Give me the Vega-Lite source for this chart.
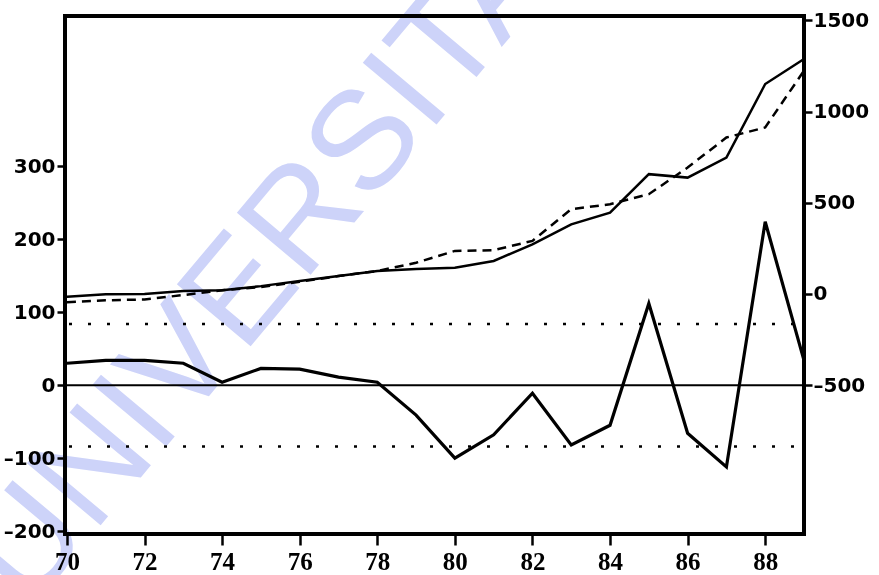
{
  "$schema": "https://vega.github.io/schema/vega-lite/v6.json",
  "width": 739,
  "height": 518,
  "autosize": "none",
  "padding": {"left": 65, "top": 16, "right": 75, "bottom": 41},
  "background": "white",
  "config": {
    "view": {"stroke": "black", "strokeWidth": 4},
    "axis": {
      "grid": false,
      "domain": false,
      "title": null,
      "zindex": 1,
      "labelFont": "DejaVu Sans",
      "labelFontWeight": "bold",
      "labelFontSize": 20,
      "labelColor": "black",
      "tickColor": "black",
      "tickWidth": 2.5
    }
  },
  "datasets": {
    "series": [
      {"year": 70, "actual": -15, "fitted": -45, "resid": 30},
      {"year": 71, "actual": -2, "fitted": -35, "resid": 34},
      {"year": 72, "actual": 0, "fitted": -30, "resid": 34},
      {"year": 73, "actual": 16, "fitted": -6, "resid": 30},
      {"year": 74, "actual": 20, "fitted": 20, "resid": 4},
      {"year": 75, "actual": 43, "fitted": 38, "resid": 23},
      {"year": 76, "actual": 71, "fitted": 67, "resid": 22},
      {"year": 77, "actual": 98, "fitted": 98, "resid": 11},
      {"year": 78, "actual": 126, "fitted": 126, "resid": 4},
      {"year": 79, "actual": 137, "fitted": 171, "resid": -41},
      {"year": 80, "actual": 144, "fitted": 236, "resid": -100},
      {"year": 81, "actual": 181, "fitted": 240, "resid": -68},
      {"year": 82, "actual": 272, "fitted": 291, "resid": -11},
      {"year": 83, "actual": 382, "fitted": 465, "resid": -82},
      {"year": 84, "actual": 446, "fitted": 492, "resid": -55},
      {"year": 85, "actual": 657, "fitted": 547, "resid": 112},
      {"year": 86, "actual": 638, "fitted": 693, "resid": -66},
      {"year": 87, "actual": 748, "fitted": 858, "resid": -112},
      {"year": 88, "actual": 1151, "fitted": 913, "resid": 224},
      {"year": 89, "actual": 1288, "fitted": 1224, "resid": 34}
    ],
    "watermark": [{"label": "UNIVERSITAS"}],
    "bands": [{"level": 84}, {"level": -84}],
    "zero": [{"level": 0}]
  },
  "layer": [
    {
      "layer": [
        {
          "data": {"name": "zero"},
          "mark": {"type": "rule", "color": "black", "strokeWidth": 2},
          "encoding": {
            "y": {"field": "level", "type": "quantitative", "scale": {"domain": [-204, 506], "nice": false, "zero": false}}
          }
        },
        {
          "data": {"name": "bands"},
          "mark": {"type": "rule", "color": "black", "strokeWidth": 2.5, "strokeDash": [3, 16], "strokeDashOffset": 9},
          "encoding": {
            "y": {"field": "level", "type": "quantitative", "scale": {"domain": [-204, 506], "nice": false, "zero": false}}
          }
        },
        {
          "data": {"name": "series"},
          "mark": {"type": "line", "color": "black", "strokeWidth": 3.2},
          "encoding": {
            "x": {
              "field": "year", "type": "quantitative",
              "scale": {"domain": [69.95, 89], "nice": false, "zero": false},
              "axis": {
                "values": [70, 71, 72, 73, 74, 75, 76, 77, 78, 79, 80, 81, 82, 83, 84, 85, 86, 87, 88, 89],
                "labelExpr": "datum.value % 2 === 0 ? '' + datum.value : ''",
                "labelFont": "Liberation Serif",
                "labelFontSize": 25,
                "labelPadding": 4,
                "tickSize": {"condition": {"test": "datum.value % 2 === 0", "value": 11}, "value": 7}
              }
            },
            "y": {
              "field": "resid", "type": "quantitative",
              "scale": {"domain": [-204, 506], "nice": false, "zero": false},
              "axis": {
                "orient": "left",
                "values": [-200, -100, 0, 100, 200, 300],
                "tickSize": 8,
                "labelPadding": 2,
                "labelExpr": "datum.value < 0 ? '–' + abs(datum.value) : '' + datum.value"
              }
            }
          }
        },
        {
          "data": {"name": "watermark"},
          "mark": {"type": "text", "align": "left", "baseline": "alphabetic", "angle": -50, "font": "Liberation Sans", "fontSize": 140, "color": "#cdd3f9", "blend": "multiply"},
          "encoding": {
            "x": {"datum": 69.0, "type": "quantitative", "scale": {"domain": [69.95, 89], "nice": false, "zero": false}},
            "y": {"datum": -310, "type": "quantitative", "scale": {"domain": [-204, 506], "nice": false, "zero": false}},
            "text": {"field": "label"}
          }
        }
      ]
    },
    {
      "data": {"name": "series"},
      "layer": [
        {
          "mark": {"type": "line", "color": "black", "strokeWidth": 2.5, "strokeDash": [9, 6]},
          "encoding": {
            "x": {"field": "year", "type": "quantitative"},
            "y": {"field": "fitted", "type": "quantitative", "scale": {"domain": [-1316, 1524], "nice": false, "zero": false}}
          }
        },
        {
          "mark": {"type": "line", "color": "black", "strokeWidth": 2.5},
          "encoding": {
            "x": {"field": "year", "type": "quantitative"},
            "y": {
              "field": "actual", "type": "quantitative",
              "scale": {"domain": [-1316, 1524], "nice": false, "zero": false},
              "axis": {
                "orient": "right",
                "values": [-500, 0, 500, 1000, 1500],
                "tickSize": 8,
                "labelPadding": 1,
                "labelExpr": "datum.value < 0 ? '–' + abs(datum.value) : '' + datum.value"
              }
            }
          }
        }
      ]
    }
  ],
  "resolve": {"scale": {"y": "independent"}}
}
